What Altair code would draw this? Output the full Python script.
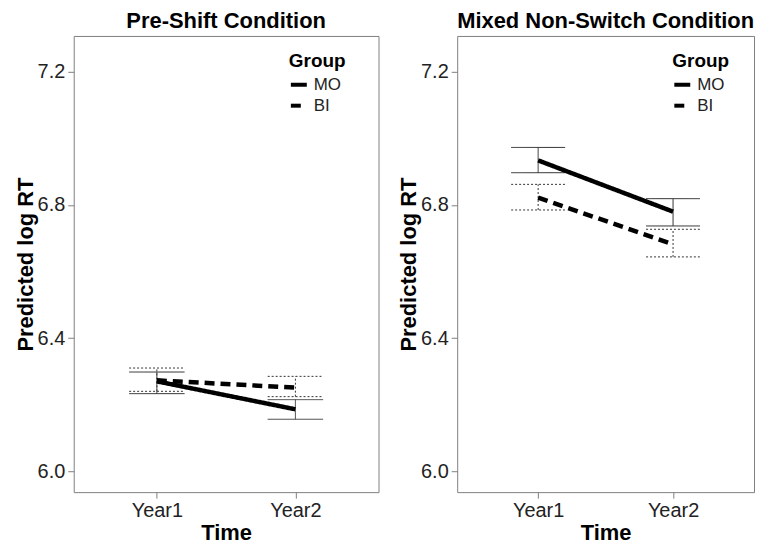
import altair as alt
import pandas as pd

times = ["Year1", "Year2"]
groups = ["MO", "BI"]
panel_titles = ["Pre-Shift Condition", "Mixed Non-Switch Condition"]
y_ticks = [6.0, 6.4, 6.8, 7.2]

# Pre-Shift Condition
pre_mo_mean = [6.270, 6.186]
pre_mo_lo = [6.233, 6.156]
pre_mo_hi = [6.298, 6.215]
pre_bi_mean = [6.273, 6.251]
pre_bi_lo = [6.240, 6.224]
pre_bi_hi = [6.310, 6.285]

# Mixed Non-Switch Condition
mix_mo_mean = [6.934, 6.780]
mix_mo_lo = [6.897, 6.737]
mix_mo_hi = [6.973, 6.819]
mix_bi_mean = [6.822, 6.682]
mix_bi_lo = [6.785, 6.644]
mix_bi_hi = [6.862, 6.727]

CAP_HALF = 0.2


def frame(mo_mean, mo_lo, mo_hi, bi_mean, bi_lo, bi_hi):
    rows = []
    for g, m, lo, hi in [("MO", mo_mean, mo_lo, mo_hi), ("BI", bi_mean, bi_lo, bi_hi)]:
        for i, t in enumerate(times):
            rows.append(dict(group=g, time=t, t=i + 1, mean=m[i], lo=lo[i], hi=hi[i],
                             xl=i + 1 - CAP_HALF, xr=i + 1 + CAP_HALF))
    return pd.DataFrame(rows)


def panel(df, title, width):
    xs = alt.Scale(domain=[0.4, 2.6], nice=False, zero=False)
    ys = alt.Scale(domain=[5.937, 7.308], nice=False, zero=False)
    xax = alt.Axis(values=[1, 2], labelExpr="datum.value == 1 ? 'Year1' : 'Year2'", title="Time")
    yax = alt.Axis(values=y_ticks, format=".1f", title="Predicted log RT")
    base = alt.Chart(df)
    layers = []
    for g, dash in [("MO", [1, 0]), ("BI", [2, 2])]:
        sub = base.transform_filter(alt.datum.group == g)
        stem = sub.mark_rule(color="#333333", strokeWidth=1, strokeDash=dash).encode(
            x=alt.X("t:Q", scale=xs, axis=xax),
            y=alt.Y("lo:Q", scale=ys, axis=yax),
            y2="hi:Q",
        )
        caps = sub.transform_fold(["lo", "hi"], as_=["end", "val"]).mark_rule(
            color="#333333", strokeWidth=1, strokeDash=dash
        ).encode(
            x=alt.X("xl:Q", scale=xs, axis=xax),
            x2="xr:Q",
            y=alt.Y("val:Q", scale=ys, axis=yax),
        )
        layers += [stem, caps]
    lines = base.mark_line(color="black", strokeWidth=4.5).encode(
        x=alt.X("t:Q", scale=xs, axis=xax),
        y=alt.Y("mean:Q", scale=ys, axis=yax),
        strokeDash=alt.StrokeDash(
            "group:N",
            scale=alt.Scale(domain=groups, range=[[1, 0], [10, 6]]),
            legend=alt.Legend(
                title="Group", orient="none", legendX=216, legendY=16,
                symbolType="stroke", symbolStrokeWidth=4, symbolSize=256,
                symbolStrokeColor="black",
                titleFont="Liberation Sans", titleFontSize=19, titleFontWeight="bold",
                titleColor="black", titlePadding=4,
                labelFont="Liberation Sans", labelFontSize=17, labelColor="#222222",
                labelOffset=5, rowPadding=3,
            ),
        ),
    )
    layers.append(lines)
    return alt.layer(*layers).properties(
        width=width, height=458,
        title=alt.TitleParams(title, frame="group", anchor="middle"),
    )


left = panel(frame(pre_mo_mean, pre_mo_lo, pre_mo_hi, pre_bi_mean, pre_bi_lo, pre_bi_hi),
             panel_titles[0], 306)
right = panel(frame(mix_mo_mean, mix_mo_lo, mix_mo_hi, mix_bi_mean, mix_bi_lo, mix_bi_hi),
              panel_titles[1], 298)

chart = alt.hconcat(left, right, spacing=17).resolve_scale(
    strokeDash="independent"
).properties(
    padding={"left": 5, "top": 0, "right": 0, "bottom": 0}
).configure_view(
    stroke="#7f7f7f", strokeWidth=1
).configure_axis(
    grid=False, domain=False, tickColor="#7f7f7f", tickSize=6,
    labelFont="Liberation Sans", labelFontSize=20, labelColor="#222222", labelPadding=3,
    titleFont="Liberation Sans", titleFontSize=22, titleFontWeight="bold",
    titleColor="black",
).configure_axisY(
    titlePadding=0
).configure_axisX(
    titlePadding=3, labelPadding=2
).configure_title(
    font="Liberation Sans", fontSize=22, fontWeight="bold", color="black", offset=3,
)

chart.save("out.html", embed_options={"renderer": "svg", "actions": False})
